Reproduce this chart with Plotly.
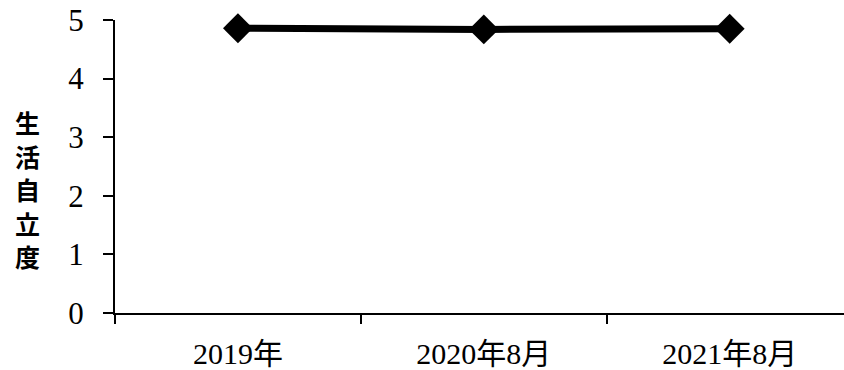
import plotly.graph_objects as go

# survey periods and the mean self-reliance score at each
periods = ["2019年", "2020年8月", "2021年8月"]
scores = [4.86, 4.84, 4.85]
y_ticks = [0, 1, 2, 3, 4, 5]
title_chars = ["生", "活", "自", "立", "度"]

PLOT_LEFT, PLOT_TOP, PLOT_BOTTOM = 115, 20, 313
PLOT_W, PLOT_H = 844 - PLOT_LEFT, PLOT_BOTTOM - PLOT_TOP

fig = go.Figure()
fig.add_trace(go.Scatter(
    x=periods,
    y=scores,
    mode="lines+markers",
    line=dict(color="black", width=7),
    marker=dict(symbol="diamond", size=23, color="black"),
    cliponaxis=False,
    showlegend=False,
))

# vertical axis title, one character per line
annotations = []
for i, ch in enumerate(title_chars):
    y_px = 122 + i * 33.6
    annotations.append(dict(
        text=f"<b>{ch}</b>",
        xref="paper", yref="paper",
        x=(27 - PLOT_LEFT) / PLOT_W, y=(PLOT_BOTTOM - y_px) / PLOT_H,
        xanchor="center", yanchor="middle",
        showarrow=False,
        font=dict(family="Noto Sans CJK JP", size=25, color="black"),
    ))

fig.update_layout(
    width=844,
    height=370,
    margin=dict(l=PLOT_LEFT, r=0, t=PLOT_TOP, b=370 - PLOT_BOTTOM),
    plot_bgcolor="white",
    paper_bgcolor="white",
    xaxis=dict(
        type="category",
        range=[-0.5, 2.465],
        showline=True,
        linecolor="black",
        linewidth=2,
        ticks="outside",
        tickson="boundaries",
        ticklen=9,
        tickwidth=2,
        tickcolor="black",
        showgrid=False,
        zeroline=False,
        tickfont=dict(family="Liberation Serif, Noto Sans CJK JP", size=30, color="black"),
        ticklabelstandoff=13,
    ),
    yaxis=dict(
        range=[0, 5],
        tickvals=y_ticks,
        showline=True,
        linecolor="black",
        linewidth=2,
        ticks="outside",
        ticklen=10,
        tickwidth=2,
        tickcolor="black",
        showgrid=False,
        zeroline=False,
        tickfont=dict(family="Liberation Serif", size=31, color="black"),
        ticklabelstandoff=13,
    ),
    annotations=annotations,
)

fig.write_html("out.html")
